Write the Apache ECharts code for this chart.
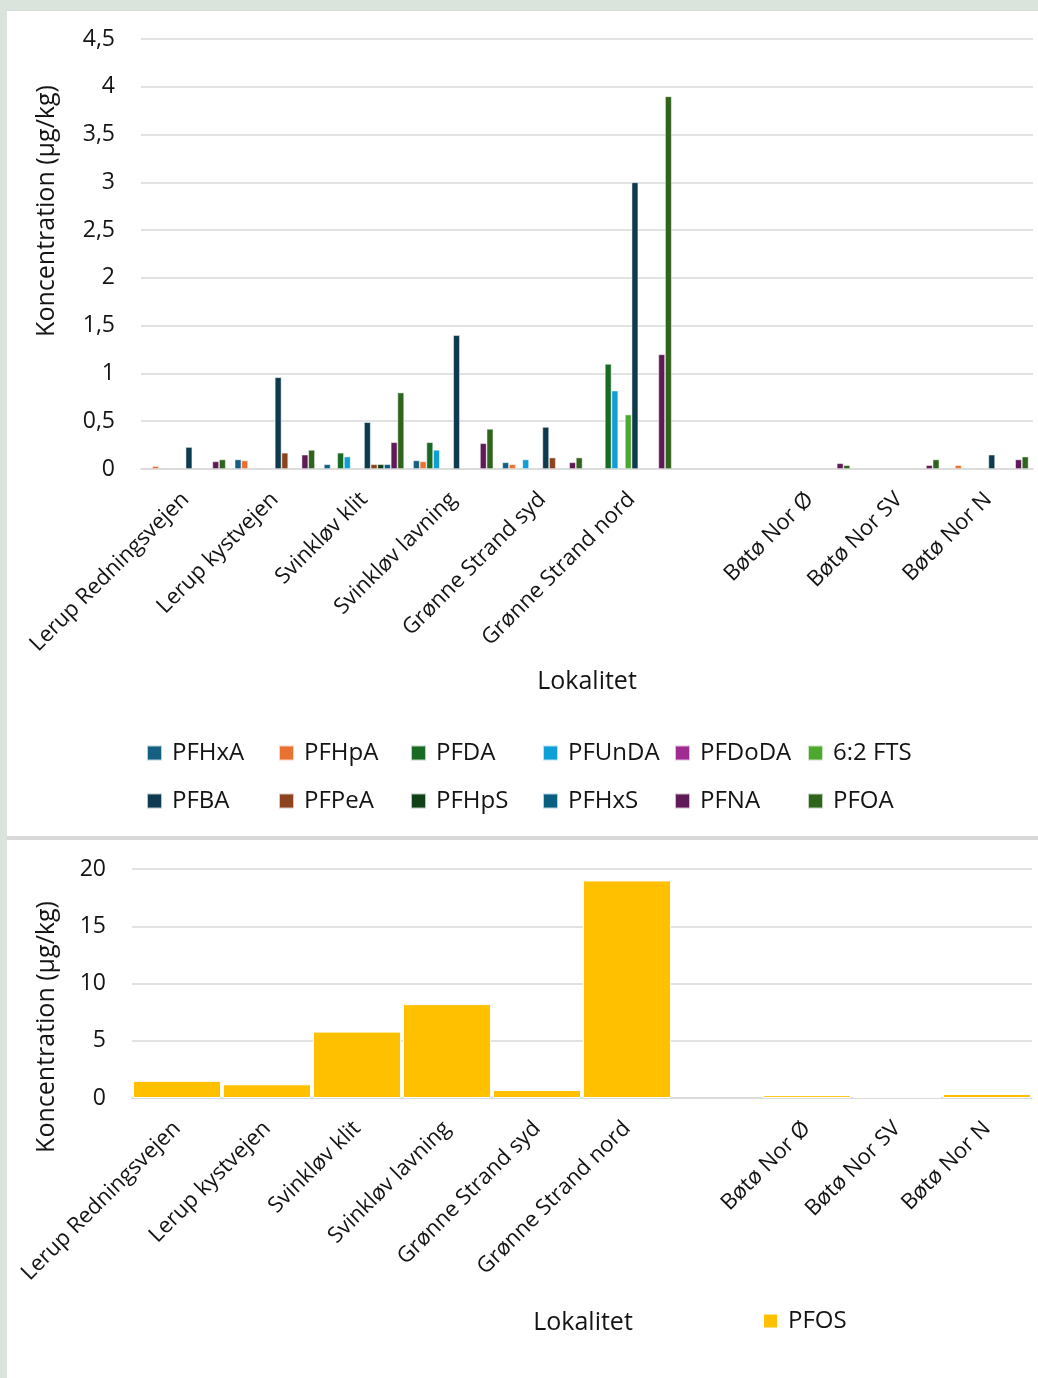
<!DOCTYPE html>
<html>
<head>
<meta charset="utf-8">
<script src="https://cdn.jsdelivr.net/npm/echarts@6/dist/echarts.min.js"></script>
<style>
  html, body { margin: 0; padding: 0; }
  body { width: 1038px; height: 1378px; background: #dbe4dc; position: relative; overflow: hidden; }
  .panel { position: absolute; background: #ffffff; }
  #top { left: 7px; top: 10px; width: 1031px; height: 826px; border-top: 1px solid #d6dcd7; box-sizing: border-box; }
  #sep { position: absolute; left: 7px; top: 836px; width: 1031px; height: 4px; background: #d9d9d9; }
  #bottom { left: 7px; top: 840px; width: 1031px; height: 538px; }
</style>
</head>
<body>
<div id="top" class="panel"></div>
<div id="sep"></div>
<div id="bottom" class="panel"></div>
<script>
// Sampling sites (the empty entry keeps a spacer slot between the two site groups)
const categories = ['Lerup Redningsvejen', 'Lerup kystvejen', 'Svinkløv klit', 'Svinkløv lavning',
  'Grønne Strand syd', 'Grønne Strand nord', '', 'Bøtø Nor Ø', 'Bøtø Nor SV', 'Bøtø Nor N'];

// PFAS concentrations, µg/kg (null = not detected)
const PFHxA  = [null, 0.10, 0.05, 0.09, 0.07, null, null, null, null, null];
const PFHpA  = [0.03, 0.09, null, 0.08, 0.05, null, null, null, null, 0.04];
const PFDA   = [null, null, 0.17, 0.28, null, 1.10, null, null, null, null];
const PFUnDA = [null, null, 0.13, 0.20, 0.10, 0.82, null, null, null, null];
const PFDoDA = [null, null, null, null, null, null, null, null, null, null];
const FTS62  = [null, null, null, null, null, 0.57, null, null, null, null];
const PFBA   = [0.23, 0.96, 0.49, 1.40, 0.44, 3.00, null, null, null, 0.15];
const PFPeA  = [null, 0.17, 0.05, null, 0.12, null, null, null, null, null];
const PFHpS  = [null, null, 0.05, null, null, null, null, null, null, null];
const PFHxS  = [null, null, 0.05, null, null, null, null, null, null, null];
const PFNA   = [0.08, 0.15, 0.28, 0.27, 0.07, 1.20, null, 0.06, 0.04, 0.10];
const PFOA   = [0.10, 0.20, 0.80, 0.42, 0.12, 3.90, null, 0.04, 0.10, 0.13];
const PFOS   = [1.5, 1.2, 5.8, 8.2, 0.7, 19.0, null, 0.25, 0.1, 0.35];

// Axis ticks
const topTicks = { min: 0, max: 4.5, interval: 0.5 };
const bottomTicks = { min: 0, max: 20, interval: 5 };

const seriesNames = ['PFHxA', 'PFHpA', 'PFDA', 'PFUnDA', 'PFDoDA', '6:2 FTS',
  'PFBA', 'PFPeA', 'PFHpS', 'PFHxS', 'PFNA', 'PFOA'];
const seriesData = [PFHxA, PFHpA, PFDA, PFUnDA, PFDoDA, FTS62, PFBA, PFPeA, PFHpS, PFHxS, PFNA, PFOA];
const seriesColors = ['#156082', '#e97132', '#196b24', '#0f9ed5', '#a02b93', '#4ea72e',
  '#0d3a4e', '#8c441e', '#0f4016', '#095f80', '#601a58', '#2f641c'];

const FONT = '"Open Sans", "Liberation Sans", sans-serif';
const TXT = '#141414';
const GRID = '#d9d9d9';

const commaFmt = v => String(v).replace('.', ',');

function xAxisCfg() {
  return {
    type: 'category',
    data: categories,
    axisTick: { show: false },
    axisLine: { show: true, lineStyle: { color: GRID, width: 1.5 } },
    axisLabel: {
      interval: 0, rotate: 45, margin: 27,
      fontFamily: FONT, fontSize: 22, color: TXT
    }
  };
}

function yAxisCfg(t) {
  return {
    type: 'value',
    min: t.min, max: t.max, interval: t.interval,
    axisLine: { show: false },
    axisTick: { show: false },
    splitLine: { lineStyle: { color: GRID, width: 1.5 } },
    axisLabel: { margin: 26, fontFamily: FONT, fontSize: 23, color: TXT, formatter: commaFmt }
  };
}

function titleText(text, x, y, rotate) {
  return {
    type: 'text', x: x, y: y, rotation: rotate ? Math.PI / 2 : 0,
    style: { text: text, font: '25px ' + FONT, fill: TXT, align: 'center', verticalAlign: 'middle' }
  };
}

const legendText = { fontFamily: FONT, fontSize: 24, color: TXT, lineHeight: 24, padding: [0, 0, 0, 5] };

// ---- Upper chart: all PFAS except PFOS ----
const topChart = echarts.init(document.getElementById('top'), null, { renderer: 'canvas' });
const legendCols = [139, 271, 403, 535, 667, 800];
const topLegends = legendCols.map((x, i) => ({
  orient: 'vertical', left: x, top: 730, padding: 0,
  itemWidth: 15, itemHeight: 15, itemGap: 24,
  icon: 'rect',
  data: [seriesNames[i], seriesNames[i + 6]],
  textStyle: legendText
}));

topChart.setOption({
  animation: false,
  grid: { left: 134, top: 28, width: 892, height: 430, containLabel: false },
  legend: topLegends,
  xAxis: xAxisCfg(),
  yAxis: yAxisCfg(topTicks),
  graphic: [
    titleText('Koncentration (µg/kg)', 40, 200, true),
    titleText('Lokalitet', 580, 671, false)
  ],
  series: seriesNames.map((name, i) => ({
    name: name, type: 'bar',
    data: seriesData[i],
    barGap: '0%', barCategoryGap: '10%',
    itemStyle: { color: seriesColors[i], borderColor: 'rgba(255,255,255,0.7)', borderWidth: 0.7 }
  }))
});

// ---- Lower chart: PFOS ----
const bottomChart = echarts.init(document.getElementById('bottom'), null, { renderer: 'canvas' });
bottomChart.setOption({
  animation: false,
  grid: { left: 125, top: 29, width: 900, height: 229, containLabel: false },
  legend: {
    left: 755, top: 469, padding: 0, itemWidth: 15, itemHeight: 15, icon: 'rect',
    data: ['PFOS'],
    textStyle: legendText
  },
  xAxis: xAxisCfg(),
  yAxis: yAxisCfg(bottomTicks),
  graphic: [
    titleText('Koncentration (µg/kg)', 40, 187, true),
    titleText('Lokalitet', 576, 483, false)
  ],
  series: [{
    name: 'PFOS', type: 'bar', data: PFOS,
    barCategoryGap: '2%',
    itemStyle: { color: '#ffc000', borderColor: '#ffffff', borderWidth: 1 }
  }]
});
</script>
</body>
</html>
